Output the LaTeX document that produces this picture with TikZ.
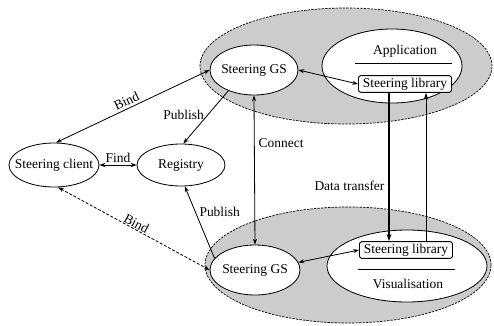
\documentclass[tikz,border=0pt]{standalone}
\usepackage{fontspec}
\setmainfont{Liberation Serif}
\usetikzlibrary{shapes.geometric,arrows.meta}

\begin{document}
\begin{tikzpicture}[x=0.03cm,y=-0.03cm,line width=0.7pt,
		every node/.style={font=\rmfamily\fontsize{11.5}{13}\selectfont},
		zone/.style={draw,ellipse,fill=gray!40,line width=0.6pt,dash pattern=on 2pt off 1pt},
		proc/.style={draw,ellipse,fill=white,inner sep=0pt},
		steerlib/.style={draw,rectangle,rounded corners=2pt,fill=white,inner sep=1pt,minimum width=2.79cm,minimum height=0.5cm,line width=0.8pt}]
			\useasboundingbox (0,0) rectangle (494,325);
			% shaded hosts
			\node[zone,minimum width=8.76cm,minimum height=3.48cm] (zoneA)at(346,66) {};
			\node[zone,minimum width=8.58cm,minimum height=3.48cm] (zoneB)at(348,265) {};
			% processes
			\node[proc,minimum width=2.7cm,minimum height=1.32cm,label=center:{Steering client}] (client)at(54,165) {};
			\node[proc,minimum width=2.64cm,minimum height=1.26cm,label=center:{Registry}] (registry)at(181,165) {};
			\node[proc,minimum width=2.64cm,minimum height=1.5cm,label=center:{Steering GS}] (gsA)at(254,70) {};
			\node[proc,minimum width=2.7cm,minimum height=1.5cm,label=center:{Steering GS}] (gsB)at(255,270) {};
			\node[proc,minimum width=4.2cm,minimum height=2.22cm] (app)at(392,66) {};
			\node[proc,minimum width=4.8cm,minimum height=2.16cm] (vis)at(407,266) {};
			\node (apptext)at(405,51) {Application};
			\node (vistext)at(408,284) {Visualisation};
			\draw (355,63) -- (452,63);
			\draw (358,269) -- (455,269);
			\node[steerlib] (libA)at(405,84) {Steering library};
			\node[steerlib] (libB)at(406,250) {Steering library};
			% connections
			\draw[<->,>={Stealth[length=5pt,width=3.5pt]}] (client.85) -- node[above,sloped,pos=0.48,inner sep=2pt] {Bind} (gsA.west);
			\draw[<->,>={Stealth[length=5pt,width=3.5pt]},dash pattern=on 2.5pt off 1.5pt] (client.280) -- node[above,sloped,inner sep=0.5pt] {Bind} (gsB.west);
			\draw[<->,>={Stealth[length=5pt,width=3.5pt]}] (client.east) -- node[above,inner sep=2pt] {Find} (registry.west);
			\draw[->,>={Stealth[length=5pt,width=3.5pt]}] (gsA.219) -- node[left,pos=0.45] {Publish} (registry.84);
			\draw[->,>={Stealth[length=5pt,width=3.5pt]}] (gsB.164) -- node[right,pos=0.65] {Publish} (registry.280);
			\draw[<->,>={Stealth[length=5pt,width=3.5pt]}] (gsA.south) -- node[right,pos=0.32] {Connect} (gsB.north);
			\draw[<->,>={Stealth[length=5pt,width=3.5pt]}] (gsA.east) -- (libA.west);
			\draw[<->,>={Stealth[length=5pt,width=3.5pt]}] (gsB.10) -- (libB.west);
			\draw[->,>={Stealth[length=6pt,width=4pt]},line width=1.1pt] ([xshift=-0.48cm]libA.south) -- node[left,pos=0.63] {Data transfer} ([xshift=-0.51cm]libB.north);
			\draw[->,>={Stealth[length=6pt,width=4pt]}] ([xshift=0.6cm]libB.north) -- ([xshift=0.63cm]libA.south);
		\end{tikzpicture}
\end{document}
